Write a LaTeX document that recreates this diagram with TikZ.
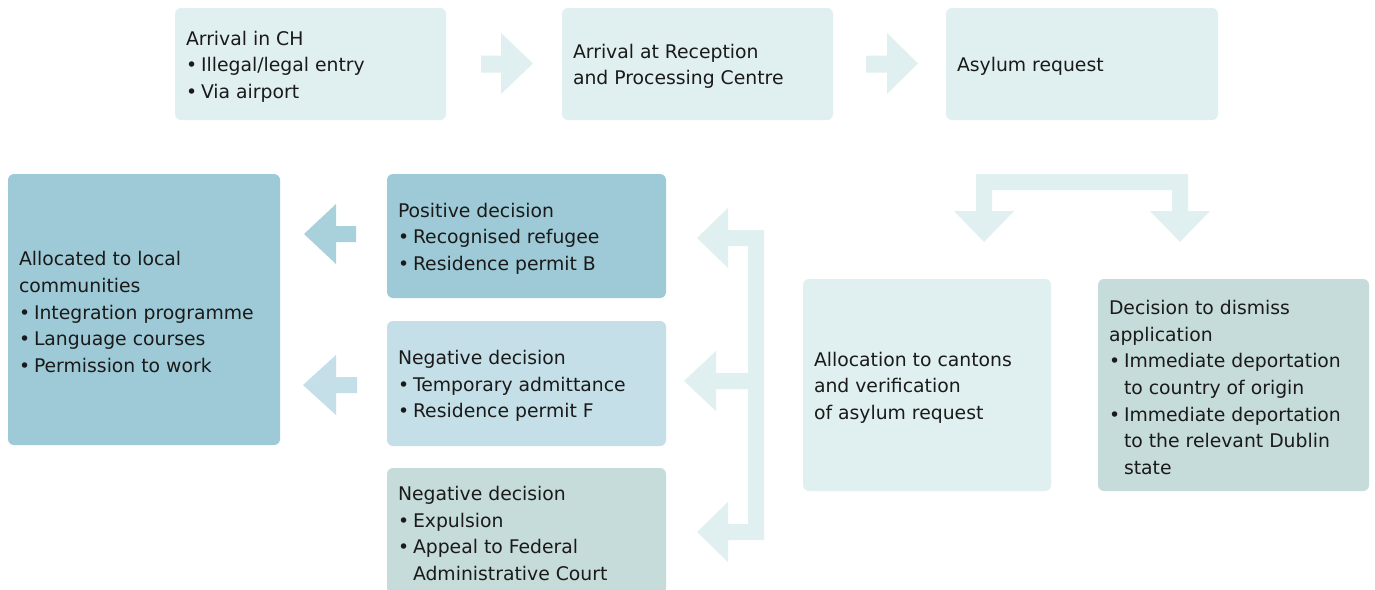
\documentclass[tikz,border=0pt]{standalone}
\usepackage{fontspec}
\setmainfont{DejaVu Sans}
\begin{document}
\definecolor{paleblue}{HTML}{E0EFF0}
\definecolor{tealbox}{HTML}{9DCAD6}
\definecolor{tealarrow}{HTML}{A8D1DC}
\definecolor{midblue}{HTML}{C4DFE7}
\definecolor{greybox}{HTML}{C6DCDA}
\definecolor{ink}{HTML}{1A1A1A}
\newcommand{\itm}{\makebox[15pt][l]{•}}
\newcommand{\ind}{\hspace*{15pt}}
\begin{tikzpicture}[x=1pt,y=-1pt,
  box/.style={rounded corners=6pt, inner sep=0pt},
  txt/.style={anchor=west, inner sep=0pt, align=left, text=ink,
    font=\fontsize{18.8}{26.6}\selectfont, xshift=11pt, yshift=-2.5pt}]
\clip (0,0) rectangle (1375,589);
\fill[white] (0,0) rectangle (1375,589);

% top row
\node[box, fill=paleblue, minimum width=271, minimum height=112] (arrive) at (310.5,64) {};
\node[txt] (arrive-t) at (arrive.west) {Arrival in CH\\ \itm Illegal/legal entry\\ \itm Via airport};
\node[box, fill=paleblue, minimum width=271, minimum height=112] (centre) at (697.5,64) {};
\node[txt] (centre-t) at (centre.west) {Arrival at Reception\\ and Processing Centre};
\node[box, fill=paleblue, minimum width=272, minimum height=112] (request) at (1082,64) {};
\node[txt] (request-t) at (request.west) {Asylum request};

% middle and bottom rows
\node[box, fill=tealbox, minimum width=272, minimum height=271] (local) at (144,309.5) {};
\node[txt] (local-t) at (local.west)
  {Allocated to local\\ communities\\ \itm Integration programme\\ \itm Language courses\\ \itm Permission to work};
\node[box, fill=tealbox, minimum width=279, minimum height=124] (positive) at (526.5,236) {};
\node[txt] (positive-t) at (positive.west)
  {Positive decision\\ \itm Recognised refugee\\ \itm Residence permit B};
\node[box, fill=midblue, minimum width=279, minimum height=125] (negtemp) at (526.5,383.5) {};
\node[txt] (negtemp-t) at (negtemp.west)
  {Negative decision\\ \itm Temporary admittance\\ \itm Residence permit F};
\node[box, fill=greybox, minimum width=279, minimum height=126] (negexp) at (526.5,531) {};
\node[txt] (negexp-t) at (negexp.west)
  {Negative decision\\ \itm Expulsion\\ \itm Appeal to Federal\\ \ind Administrative Court};
\node[box, fill=paleblue, minimum width=248, minimum height=212] (alloc) at (927,385) {};
\node[txt] (alloc-t) at (alloc.west)
  {Allocation to cantons\\ and verification\\ of asylum request};
\node[box, fill=greybox, minimum width=271, minimum height=212] (dismiss) at (1233.5,385) {};
\node[txt] (dismiss-t) at (dismiss.west)
  {Decision to dismiss\\ application\\ \itm Immediate deportation\\ \ind to country of origin\\ \itm Immediate deportation\\ \ind to the relevant Dublin\\ \ind state};

% right-pointing block arrows between the top boxes
\fill[paleblue] (481,55.5) -- (501,55.5) -- (501,33) -- (533,63.5) -- (501,94) -- (501,72.5) -- (481,72.5) -- cycle;
\fill[paleblue] (866,55.5) -- (887,55.5) -- (887,33) -- (918,63.5) -- (887,94) -- (887,72.5) -- (866,72.5) -- cycle;

% left-pointing block arrows into the local communities box
\fill[tealarrow] (356,226) -- (336,226) -- (336,204) -- (304,234) -- (336,264) -- (336,242) -- (356,242) -- cycle;
\fill[midblue] (357,377) -- (336,377) -- (336,355) -- (303,385) -- (336,415) -- (336,393) -- (357,393) -- cycle;

% fork from the asylum request to both outcomes
\fill[paleblue] (976,174) -- (1188,174) -- (1188,211) -- (1210,211) -- (1180,242) -- (1150,211)
  -- (1172,211) -- (1172,190) -- (992,190) -- (992,211) -- (1014,211) -- (984,242) -- (954,211)
  -- (976,211) -- cycle;

% bracket distributing the verification result to the three decisions
\fill[paleblue] (764,230) -- (764,540) -- (728,540) -- (728,562) -- (697,532) -- (728,502)
  -- (728,524) -- (748,524) -- (748,389) -- (716,389) -- (716,411) -- (684,381) -- (716,351)
  -- (716,373) -- (748,373) -- (748,246) -- (728,246) -- (728,268) -- (697,238) -- (728,208)
  -- (728,230) -- cycle;
\end{tikzpicture}
\end{document}
